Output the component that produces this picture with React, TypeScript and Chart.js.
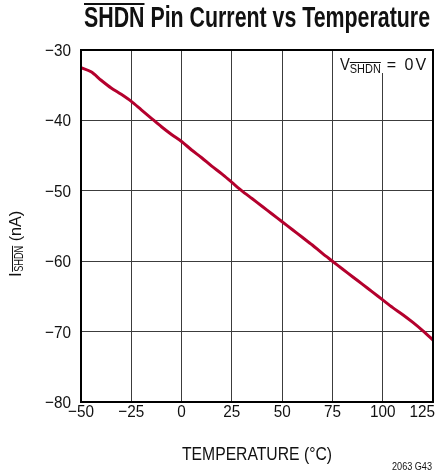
import React, { useEffect, useRef } from "react";
import { Chart, registerables } from "chart.js";

Chart.register(...registerables);

const temperatures = [-50, -45, -40, -35, -30, -25, -20, -15, -10, -5, 0, 5, 10, 15, 20, 25, 30, 35, 40, 45, 50, 55, 60, 65, 70, 75, 80, 85, 90, 95, 100, 105, 110, 115, 120, 125];
const currents = [-32.5, -33.1, -34.3, -35.4, -36.3, -37.3, -38.5, -39.7, -40.9, -42.0, -43.0, -44.2, -45.3, -46.5, -47.6, -48.8, -50.0, -51.1, -52.2, -53.3, -54.4, -55.5, -56.6, -57.7, -58.9, -60.0, -61.1, -62.2, -63.3, -64.4, -65.5, -66.6, -67.6, -68.7, -69.9, -71.2];

const xTicks = [-50, -25, 0, 25, 50, 75, 100, 125];
const yTicks = [-30, -40, -50, -60, -70, -80];

const TITLE_OVER = "SHDN";
const TITLE_REST = " Pin Current vs Temperature";
const X_TITLE = "TEMPERATURE (°C)";
const Y_TITLE_MAIN = "I";
const Y_TITLE_SUB = "SHDN";
const Y_TITLE_REST = " (nA)";
const NOTE_MAIN = "V";
const NOTE_SUB = "SHDN";
const NOTE_REST = "= 0V";
const FOOTNOTE = "2063 G43";

const FONT = "'Liberation Sans', Arial, sans-serif";
const fmt = (v: number) => (v < 0 ? "\u2212" + Math.abs(v) : String(v));

function scaledText(ctx: CanvasRenderingContext2D, text: string, x: number, y: number, sx: number, align: CanvasTextAlign) {
  ctx.save();
  ctx.translate(x, y);
  ctx.scale(sx, 1);
  ctx.textAlign = align;
  ctx.fillText(text, 0, 0);
  ctx.restore();
}

const textPlugin = {
  id: "textPlugin",
  beforeDatasetsDraw(chart: any) {
    const ctx = chart.ctx as CanvasRenderingContext2D;
    const { right, top } = chart.chartArea;
    const xs = chart.scales.x;
    ctx.save();
    ctx.fillStyle = "#fff";
    const bx = xs.getPixelForValue(75) + 1;
    ctx.fillRect(bx, top, right - bx, 23);
    ctx.restore();
  },
  afterDraw(chart: any) {
    const ctx = chart.ctx as CanvasRenderingContext2D;
    const { left, right, top, bottom } = chart.chartArea;
    const xs = chart.scales.x;
    const ys = chart.scales.y;
    const cx = (left + right) / 2;

    ctx.save();
    ctx.strokeStyle = "#000";
    ctx.lineWidth = 2;
    ctx.strokeRect(left, top, right - left, bottom - top);
    ctx.restore();

    ctx.save();
    ctx.fillStyle = "#111";
    ctx.textBaseline = "alphabetic";

    // title
    ctx.font = `bold 29px ${FONT}`;
    const tw = ctx.measureText(TITLE_OVER + TITLE_REST).width;
    const tsx = 346 / tw;
    ctx.save();
    ctx.translate(cx - 173, 27);
    ctx.scale(tsx, 1);
    ctx.textAlign = "left";
    ctx.fillText(TITLE_OVER + TITLE_REST, 0, 0);
    const ow = ctx.measureText(TITLE_OVER).width;
    ctx.fillRect(0, -24, ow, 2);
    ctx.restore();

    // tick labels
    ctx.font = `17px ${FONT}`;
    for (const v of yTicks) {
      scaledText(ctx, fmt(v), left - 10, ys.getPixelForValue(v) + 6, 0.9, "right");
    }
    for (let i = 0; i < xTicks.length; i++) {
      const v = xTicks[i];
      const last = i === xTicks.length - 1;
      const px = xs.getPixelForValue(v);
      scaledText(ctx, fmt(v), last ? px + 2 : px, bottom + 15, 0.9, last ? "right" : "center");
    }

    // x title
    ctx.font = `18px ${FONT}`;
    const xw = ctx.measureText(X_TITLE).width;
    scaledText(ctx, X_TITLE, cx, 460, 150 / xw, "center");

    // footnote
    ctx.font = `10px ${FONT}`;
    const fw = ctx.measureText(FOOTNOTE).width;
    scaledText(ctx, FOOTNOTE, right - 1, 470, 40 / fw, "right");

    // y title (rotated)
    ctx.save();
    ctx.translate(21, 277);
    ctx.rotate(-Math.PI / 2);
    ctx.textAlign = "left";
    ctx.font = `17px ${FONT}`;
    ctx.fillText(Y_TITLE_MAIN, 0, 0);
    let off = ctx.measureText(Y_TITLE_MAIN).width + 0.5;
    ctx.font = `12px ${FONT}`;
    const sw = ctx.measureText(Y_TITLE_SUB).width;
    ctx.save();
    ctx.translate(off, 1.5);
    ctx.scale(26 / sw, 1);
    ctx.fillText(Y_TITLE_SUB, 0, 0);
    ctx.restore();
    ctx.fillRect(off, -9, 26, 1);
    off += 26;
    ctx.font = `17px ${FONT}`;
    ctx.save();
    ctx.translate(off, 0);
    ctx.scale(0.95, 1);
    ctx.fillText(Y_TITLE_REST, 0, 0);
    ctx.restore();
    ctx.restore();

    // annotation
    const ax = 340;
    ctx.font = `16px ${FONT}`;
    scaledText(ctx, NOTE_MAIN, ax, 70, 0.92, "left");
    const vw = ctx.measureText(NOTE_MAIN).width * 0.92;
    ctx.font = `12px ${FONT}`;
    const nsw = ctx.measureText(NOTE_SUB).width;
    scaledText(ctx, NOTE_SUB, ax + vw, 72.5, 31 / nsw, "left");
    ctx.fillRect(ax + vw, 62, 31, 1);
    ctx.font = `16px ${FONT}`;
    const restStart = ax + vw + 31;
    (ctx as any).letterSpacing = "2px";
    scaledText(ctx, NOTE_REST, restStart + 6, 70, 1, "left");
    (ctx as any).letterSpacing = "0px";

    ctx.restore();
  },
};

export default function App() {
  const ref = useRef<HTMLCanvasElement>(null);
  useEffect(() => {
    if (!ref.current) return;
    const chart = new Chart(ref.current, {
      type: "line",
      data: {
        datasets: [
          {
            data: temperatures.map((t, i) => ({ x: t, y: currents[i] })),
            borderColor: "#b4002d",
            borderWidth: 3,
            pointRadius: 0,
            tension: 0.3,
            fill: false,
          },
        ],
      },
      options: {
        animation: false,
        responsive: false,
        devicePixelRatio: 1,
        layout: { padding: { left: 81, right: 14, top: 50, bottom: 70 } },
        plugins: { legend: { display: false }, tooltip: { enabled: false }, title: { display: false } },
        scales: {
          x: {
            type: "linear",
            min: -50,
            max: 125,
            ticks: { display: false, stepSize: 25 },
            grid: { color: "#3c3c3c", lineWidth: 1, drawTicks: false },
            border: { display: false },
          },
          y: {
            type: "linear",
            min: -80,
            max: -30,
            ticks: { display: false, stepSize: 10 },
            grid: { color: "#3c3c3c", lineWidth: 1, drawTicks: false },
            border: { display: false },
          },
        },
      },
      plugins: [textPlugin],
    });
    return () => chart.destroy();
  }, []);
  return (
    <div style={{ position: "absolute", left: 0, top: 0, width: 447, height: 472, background: "#fff" }}>
      <canvas ref={ref} width={447} height={472} style={{ display: "block" }} />
    </div>
  );
}
